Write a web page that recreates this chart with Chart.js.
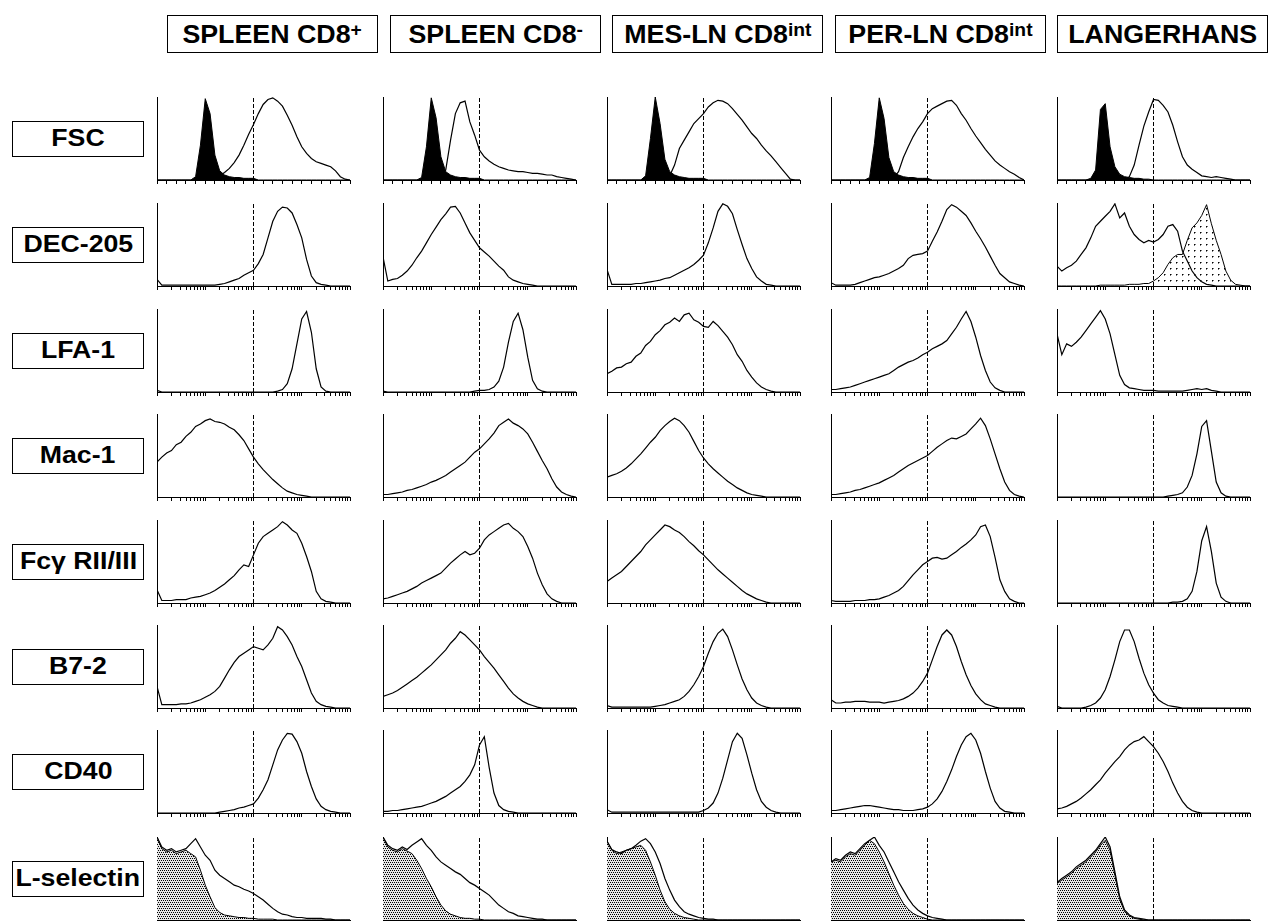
<!DOCTYPE html>
<html>
<head>
<meta charset="utf-8">
<script src="https://cdn.jsdelivr.net/npm/chart.js@4.4.0/dist/chart.umd.min.js"></script>
<style>
body { margin:0; background:#fff; width:1275px; height:921px; position:relative; overflow:hidden;
       font-family:"Liberation Sans", Arial, Helvetica, sans-serif; }
.hdr, .lbl { position:absolute; box-sizing:border-box; border:1.5px solid #000; display:flex;
             align-items:center; justify-content:center; font-weight:bold; color:#000; white-space:nowrap; }
.hdr { top:15px; height:38px; width:211px; font-size:26px; }
.hdr span { display:inline-block; transform:scaleX(1.03); }
.lbl { left:12px; width:132px; height:36px; font-size:23px; }
.lbl span { display:inline-block; transform:scaleX(1.16); }
sup { font-size:0.72em; vertical-align:0.4em; line-height:0; }
canvas { position:absolute; }
</style>
</head>
<body>
<script>
// bins along the fluorescence axis (decades 0..4)
const xs = [0,0.1,0.2,0.3,0.4,0.5,0.6,0.7,0.8,0.9,1,1.1,1.2,1.3,1.4,1.5,1.6,1.7,1.8,1.9,2,
            2.1,2.2,2.3,2.4,2.5,2.6,2.7,2.8,2.9,3,3.1,3.2,3.3,3.4,3.5,3.6,3.7,3.8,3.9,4];
const cutoff = 2;

const colNames = ['SPLEEN CD8<sup>+</sup>', 'SPLEEN CD8<sup>-</sup>', 'MES-LN CD8<sup>int</sup>',
                  'PER-LN CD8<sup>int</sup>', 'LANGERHANS'];
const rowNames = ['FSC', 'DEC-205', 'LFA-1', 'Mac-1', 'Fc&gamma; RII/III', 'B7-2', 'CD40', 'L-selectin'];

// FSC: open = cells, black = control
const fsc1 = [0,0,0,0,0,0,0,0,0,0,1,1,2,5,9,14,21,30,42,55,67,80,91,97,99,95,89,78,66,52,40,32,26,22,20,18,16,11,4,1,0];
const fsc2 = [0,0,0,0,0,0,0,0,0,0,0,0,2,12,48,80,93,95,70,54,36,28,23,19,16,14,12,11,10,10,9,8,8,7,6,6,4,3,2,1,0];
const fsc3 = [0,0,0,0,0,0,0,0,0,0,0,0,0,5,18,38,48,58,68,74,80,88,93,96,95,92,86,79,72,64,56,50,42,35,29,22,15,8,1,0,0];
const fsc4 = [0,0,0,0,0,0,0,0,0,0,0,0,0,3,10,27,40,52,62,70,80,86,89,92,95,96,90,80,72,62,53,45,37,30,23,18,14,10,7,3,0];
const fsc5 = [0,0,0,0,0,0,0,0,0,0,0,0,0,0,0,4,18,42,65,82,97,96,90,82,66,46,28,18,13,9,5,4,3,4,3,2,1,0,0,0,0];
const fscCtl1 = [0,0,0,0,0,0,0,0,4,42,98,80,30,11,6,4,3,3,2,2,2,0,0,0,0,0,0,0,0,0,0,0,0,0,0,0,0,0,0,0,0];
const fscCtl2 = [0,0,0,0,0,0,0,0,3,40,99,75,28,10,6,4,3,3,2,2,2,0,0,0,0,0,0,0,0,0,0,0,0,0,0,0,0,0,0,0,0];
const fscCtl3 = [0,0,0,0,0,0,0,0,5,50,100,68,25,10,6,4,3,2,2,2,2,0,0,0,0,0,0,0,0,0,0,0,0,0,0,0,0,0,0,0,0];
const fscCtl4 = [0,0,0,0,0,0,0,0,3,44,99,74,27,10,6,4,3,3,2,2,2,0,0,0,0,0,0,0,0,0,0,0,0,0,0,0,0,0,0,0,0];
const fscCtl5 = [0,0,0,0,0,0,0,2,12,85,92,40,16,7,4,3,2,2,1,1,0,0,0,0,0,0,0,0,0,0,0,0,0,0,0,0,0,0,0,0,0];

const dec1 = [8,1,1,1,1,1,1,1,1,1,1,1,1,2,3,5,7,9,13,16,19,27,38,58,78,90,95,94,88,74,58,32,12,4,2,1,0,0,0,0,0];
const dec2 = [35,6,8,9,13,18,25,34,42,52,62,71,80,87,95,96,88,76,64,55,46,41,36,30,24,19,11,7,5,3,2,1,0,0,0,0,0,0,0,0,0];
const dec3 = [20,2,2,2,2,2,3,3,4,5,6,7,9,10,13,16,19,22,26,31,37,52,70,90,99,96,87,68,50,33,21,11,6,2,1,0,0,0,0,0,0];
const dec4 = [4,1,1,1,1,2,4,6,8,10,11,13,15,18,21,25,33,37,38,39,42,54,65,78,92,98,95,90,85,76,66,57,47,36,25,15,10,5,3,1,0];
const dec5 = [24,18,22,25,30,38,46,58,72,78,84,90,99,82,88,72,62,56,52,55,53,56,62,72,74,66,42,30,18,10,5,2,1,0,0,0,0,0,0,0,0];
const decCtl5 = [0,0,0,0,0,0,0,0,0,1,1,1,1,1,1,2,2,2,3,3,6,10,16,26,34,38,38,55,70,76,85,98,75,55,38,18,7,2,1,0,0];

const lfa1 = [2,0,0,0,0,0,0,0,0,0,0,0,0,0,0,0,0,0,0,0,0,0,0,0,0,1,3,10,28,58,88,97,72,28,6,1,0,0,0,0,0];
const lfa2 = [1,0,0,0,0,0,0,0,0,0,0,0,0,0,0,0,0,0,0,1,2,2,3,6,13,30,60,85,95,75,42,14,4,1,0,0,0,0,0,0,0];
const lfa3 = [22,25,29,30,34,36,43,47,56,61,69,74,81,84,89,85,93,95,87,84,79,78,85,80,73,66,57,45,37,26,18,11,6,3,1,0,0,0,0,0,0];
const lfa4 = [3,3,4,5,6,8,10,12,14,16,18,20,22,26,30,33,36,38,41,45,48,52,55,58,62,70,78,88,97,85,66,44,26,12,5,2,0,0,0,0,0];
const lfa5 = [70,45,58,55,60,66,74,82,90,98,88,70,45,20,9,5,4,3,2,2,2,1,1,1,1,1,1,2,3,4,3,4,2,1,0,0,0,0,0,0,0];

const mac1 = [42,48,53,56,63,66,73,78,85,88,92,94,91,90,88,84,81,75,68,58,48,40,33,27,21,16,11,7,5,3,2,1,0,0,0,0,0,0,0,0,0];
const mac2 = [3,3,4,5,6,8,9,11,13,15,18,20,23,26,30,34,38,42,48,54,58,64,70,77,86,90,94,89,86,82,76,66,55,44,34,22,12,6,3,1,0];
const mac3 = [24,26,28,31,35,40,46,52,59,66,72,80,86,91,95,92,86,78,67,56,47,40,34,29,24,19,15,11,8,5,3,2,1,0,0,0,0,0,0,0,0];
const mac4 = [3,3,4,5,6,8,9,11,13,15,17,20,23,26,30,34,38,41,44,47,50,55,60,64,68,71,70,73,76,82,88,95,86,70,52,34,18,8,3,1,0];
const mac5 = [0,0,0,0,0,0,0,0,0,0,0,0,0,0,0,0,0,0,0,0,0,0,0,1,2,3,5,12,26,52,85,92,55,18,5,1,0,0,0,0,0];

const fcg1 = [16,3,3,3,4,4,4,6,7,8,10,12,15,19,23,28,33,40,46,44,58,72,80,84,88,92,98,94,88,84,72,56,38,14,5,2,1,0,0,0,0];
const fcg2 = [5,6,8,10,12,14,17,20,24,27,30,33,36,42,48,53,58,62,58,60,66,76,82,86,90,94,96,90,86,80,68,54,36,22,11,5,2,0,0,0,0];
const fcg3 = [26,30,34,38,44,50,56,62,70,76,82,88,94,92,88,85,80,74,69,63,58,52,46,40,35,30,25,20,15,11,8,5,3,1,0,0,0,0,0,0,0];
const fcg4 = [3,2,2,2,2,3,3,3,4,4,5,7,9,12,15,20,27,34,40,46,50,54,55,53,54,58,62,67,71,76,82,92,94,80,55,28,14,5,2,0,0];
const fcg5 = [0,0,0,0,0,0,0,0,0,0,0,0,0,0,0,0,0,0,0,0,0,0,0,0,1,1,2,5,14,38,75,92,62,24,7,2,0,0,0,0,0];

const b72_1 = [26,4,4,4,4,5,5,6,8,10,13,16,20,26,36,46,55,62,66,70,74,72,70,76,84,98,94,86,76,62,50,34,18,8,4,2,1,0,0,0,0];
const b72_2 = [14,16,18,21,25,29,33,37,42,47,52,58,64,70,78,84,92,88,82,76,70,62,55,48,40,32,24,17,12,8,5,3,1,0,0,0,0,0,0,0,0];
const b72_3 = [3,1,1,1,1,1,1,1,1,1,2,3,4,6,8,10,14,20,28,38,50,66,80,90,95,86,70,52,35,22,12,6,3,1,0,0,0,0,0,0,0];
const b72_4 = [10,6,6,7,7,8,8,8,7,7,7,6,7,8,9,11,14,18,24,32,42,58,74,88,94,88,74,56,40,27,17,10,5,3,1,0,0,0,0,0,0];
const b72_5 = [2,0,0,0,0,0,1,3,6,12,22,38,58,80,94,94,80,60,42,28,18,10,6,3,2,1,0,0,0,0,0,0,0,0,0,0,0,0,0,0,0];

const cd40_1 = [0,0,0,0,0,0,0,0,0,0,0,0,0,1,2,3,4,6,7,9,11,18,28,40,58,76,88,96,95,86,72,50,32,17,8,4,2,1,0,0,0];
const cd40_2 = [2,2,3,3,4,5,6,7,8,10,12,14,17,20,24,28,32,38,46,58,82,92,55,24,9,4,2,1,0,0,0,0,0,0,0,0,0,0,0,0,0];
const cd40_3 = [4,1,1,1,1,1,1,1,1,1,1,1,1,1,1,1,1,1,1,1,3,6,12,24,42,64,86,96,90,70,48,28,14,7,3,1,0,0,0,0,0];
const cd40_4 = [3,3,4,5,6,7,8,9,9,8,7,6,5,4,4,3,3,3,4,5,7,11,17,26,38,52,68,82,92,96,88,72,50,30,14,6,2,1,0,0,0];
const cd40_5 = [5,6,8,11,14,18,23,28,34,40,48,55,62,68,76,82,86,88,92,86,80,72,62,50,36,24,14,7,3,1,0,0,0,0,0,0,0,0,0,0,0];

// L-selectin: open = stain, stippled = control
const lsel1 = [100,88,84,86,82,84,86,92,98,88,78,72,60,54,50,46,42,40,37,35,32,28,24,19,14,10,7,6,4,3,3,2,2,2,2,1,1,0,0,0,0];
const lsel2 = [100,90,86,84,88,85,90,94,98,90,84,76,70,66,62,58,55,50,45,42,38,34,30,24,18,14,10,8,5,4,3,2,1,1,0,0,0,0,0,0,0];
const lsel3 = [95,85,82,80,84,86,90,95,98,92,82,68,50,36,24,16,10,7,5,3,2,1,1,0,0,0,0,0,0,0,0,0,0,0,0,0,0,0,0,0,0];
const lsel4 = [70,74,72,78,82,80,86,92,96,100,90,82,70,58,46,36,26,18,12,8,5,3,2,1,0,0,0,0,0,0,0,0,0,0,0,0,0,0,0,0,0];
const lsel5 = [45,50,54,58,64,68,72,78,84,92,100,88,58,28,12,6,3,2,1,0,0,0,0,0,0,0,0,0,0,0,0,0,0,0,0,0,0,0,0,0,0];
const lselCtl1 = [100,86,82,84,80,82,84,80,76,60,42,28,15,9,6,5,4,3,3,2,2,1,1,1,1,0,0,0,0,0,0,0,0,0,0,0,0,0,0,0,0];
const lselCtl2 = [100,88,84,82,86,83,80,72,62,50,40,28,18,11,7,5,3,2,2,1,1,0,0,0,0,0,0,0,0,0,0,0,0,0,0,0,0,0,0,0,0];
const lselCtl3 = [95,84,80,82,84,86,88,90,84,70,54,36,22,13,8,5,3,2,1,0,0,0,0,0,0,0,0,0,0,0,0,0,0,0,0,0,0,0,0,0,0];
const lselCtl4 = [70,72,70,76,80,78,84,90,96,92,82,70,56,42,30,20,13,8,5,3,1,0,0,0,0,0,0,0,0,0,0,0,0,0,0,0,0,0,0,0,0];
const lselCtl5 = [44,48,52,56,62,66,70,76,82,90,96,84,54,25,10,5,2,1,0,0,0,0,0,0,0,0,0,0,0,0,0,0,0,0,0,0,0,0,0,0,0];

const openRows = [
  [fsc1, fsc2, fsc3, fsc4, fsc5],
  [dec1, dec2, dec3, dec4, dec5],
  [lfa1, lfa2, lfa3, lfa4, lfa5],
  [mac1, mac2, mac3, mac4, mac5],
  [fcg1, fcg2, fcg3, fcg4, fcg5],
  [b72_1, b72_2, b72_3, b72_4, b72_5],
  [cd40_1, cd40_2, cd40_3, cd40_4, cd40_5],
  [lsel1, lsel2, lsel3, lsel4, lsel5]
];
const ctlRows = {
  0: [fscCtl1, fscCtl2, fscCtl3, fscCtl4, fscCtl5],
  1: [null, null, null, null, decCtl5],
  7: [lselCtl1, lselCtl2, lselCtl3, lselCtl4, lselCtl5]
};

// layout
const colX = [157, 383, 607, 831, 1057];
const rowY = [97, 203, 309, 414, 520, 625, 730, 837];
const hdrX = [167, 390, 612, 835, 1057];
const W = 193, H = 83;

// tick positions: linear for FSC, log decades for the rest
const linTicks = [];
for (let i = 0; i <= 20; i++) linTicks.push(i * 0.2);
const logTicks = [];
for (let d = 0; d < 4; d++) for (let k = 1; k <= 9; k++) logTicks.push(d + Math.log10(k));
logTicks.push(4);

function pattern(size, dots, bg) {
  const c = document.createElement('canvas');
  c.width = c.height = size;
  const g = c.getContext('2d');
  g.fillStyle = bg; g.fillRect(0, 0, size, size);
  dots.forEach(d => { g.fillStyle = d[2]; g.fillRect(d[0], d[1], 1, 1); });
  return g.createPattern(c, 'repeat');
}
const grayStipple = pattern(4, [[0,0,'#000'],[2,0,'#000'],[1,2,'#000'],[3,2,'#000']], '#e6e6e6');
const dotStipple = pattern(6, [[2,2,'#000'],[3,2,'#777'],[2,3,'#777']], '#fff');

function series(vals) { return xs.map((x, i) => ({ x: x, y: vals[i] })); }

// header + row labels
colNames.forEach((t, c) => {
  const d = document.createElement('div');
  d.className = 'hdr'; d.style.left = hdrX[c] + 'px';
  d.innerHTML = '<span>' + t + '</span>';
  document.body.appendChild(d);
});
rowNames.forEach((t, r) => {
  const d = document.createElement('div');
  d.className = 'lbl'; d.style.top = (rowY[r] + H / 2 - 18) + 'px';
  d.innerHTML = '<span>' + t + '</span>';
  document.body.appendChild(d);
});

openRows.forEach((row, r) => {
  row.forEach((vals, c) => {
    const cv = document.createElement('canvas');
    cv.width = W + 7; cv.height = H + 9;
    cv.style.left = (colX[c] - 3) + 'px';
    cv.style.top = (rowY[r] - 3) + 'px';
    document.body.appendChild(cv);

    const datasets = [];
    datasets.push({ data: [{ x: cutoff, y: 0 }, { x: cutoff, y: 100 }], borderColor: '#000',
                    backgroundColor: 'transparent', borderWidth: 1, borderDash: [4, 2],
                    pointRadius: 0, fill: false });
    const ctl = ctlRows[r] ? ctlRows[r][c] : null;
    if (r === 0) {
      datasets.push({ data: series(ctl), borderColor: '#000', borderWidth: 1, backgroundColor: '#000',
                      fill: 'origin', pointRadius: 0, tension: 0 });
    }
    datasets.push({ data: series(vals), borderColor: '#000', backgroundColor: 'transparent',
                    borderWidth: 1.2, pointRadius: 0, fill: false, tension: 0 });
    if (r !== 0 && ctl) {
      datasets.push({ data: series(ctl), borderColor: '#000', borderWidth: 1,
                      backgroundColor: r === 7 ? grayStipple : dotStipple,
                      fill: 'origin', pointRadius: 0, tension: 0 });
    }

    const ticks = r === 0 ? linTicks : logTicks;
    new Chart(cv, {
      type: 'line',
      data: { datasets: datasets },
      options: {
        responsive: false, animation: false, devicePixelRatio: 1,
        layout: { padding: { left: 3, right: 4, top: 3, bottom: 2 } },
        plugins: { legend: { display: false }, tooltip: { enabled: false } },
        scales: {
          x: {
            type: 'linear', min: 0, max: 4,
            afterBuildTicks: s => { s.ticks = ticks.map(v => ({ value: v })); },
            ticks: { display: false },
            grid: { drawOnChartArea: false, drawTicks: true, tickLength: 4, color: '#000', lineWidth: 1 },
            border: { display: true, color: '#000', width: 1 }
          },
          y: {
            min: 0, max: 100,
            ticks: { display: false },
            grid: { display: false, drawTicks: false },
            border: { display: true, color: '#000', width: 1 }
          }
        }
      }
    });
  });
});
</script>
</body>
</html>
